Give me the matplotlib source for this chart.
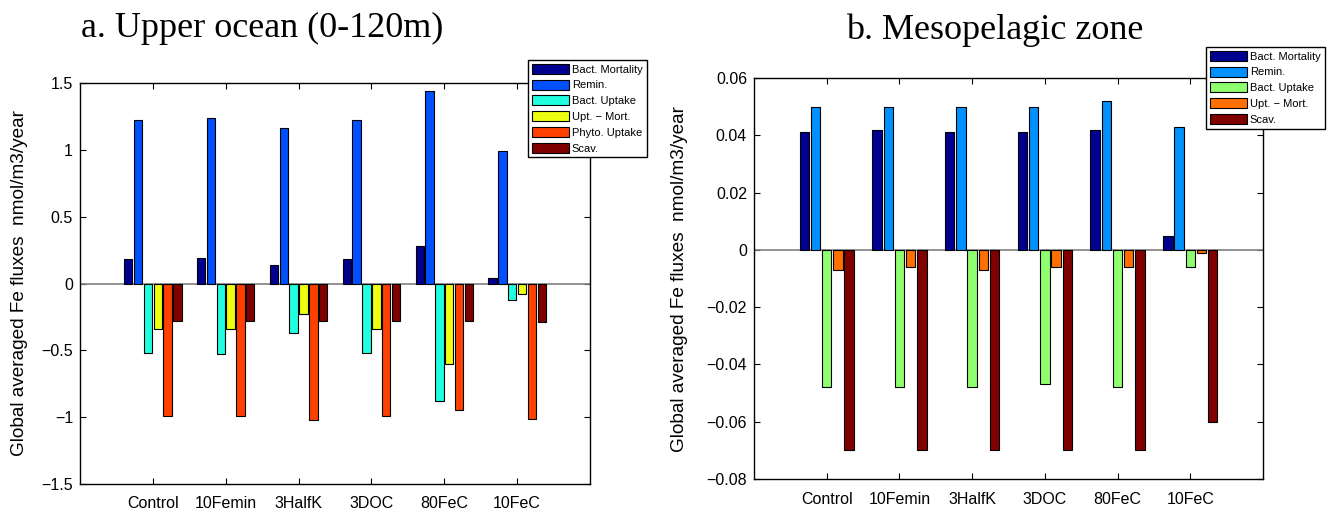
import matplotlib
matplotlib.use('Agg')
import matplotlib.pyplot as plt
import numpy as np

# Dados
experimentos = ['Control', '10Femin', '3HalfK', '3DOC', '80FeC', '10FeC']

series_sup = ['Bact. Mortality', 'Remin.', 'Bact. Uptake', 'Upt. \u2212 Mort.',
              'Phyto. Uptake', 'Scav.']
bact_mort_sup = [0.18, 0.19, 0.14, 0.18, 0.28, 0.04]
remin_sup = [1.22, 1.24, 1.16, 1.22, 1.44, 0.99]
bact_upt_sup = [-0.52, -0.53, -0.37, -0.52, -0.88, -0.12]
upt_mort_sup = [-0.34, -0.34, -0.23, -0.34, -0.60, -0.08]
phyto_upt_sup = [-0.99, -0.99, -1.02, -0.99, -0.95, -1.01]
scav_sup = [-0.28, -0.28, -0.28, -0.28, -0.28, -0.29]

series_meso = ['Bact. Mortality', 'Remin.', 'Bact. Uptake', 'Upt. \u2212 Mort.', 'Scav.']
bact_mort_meso = [0.041, 0.042, 0.041, 0.041, 0.042, 0.005]
remin_meso = [0.050, 0.050, 0.050, 0.050, 0.052, 0.043]
bact_upt_meso = [-0.048, -0.048, -0.048, -0.047, -0.048, -0.006]
upt_mort_meso = [-0.007, -0.006, -0.007, -0.006, -0.006, -0.001]
scav_meso = [-0.070, -0.070, -0.070, -0.070, -0.070, -0.060]

cores_sup = ['#000090', '#0050FF', '#20FFDF', '#EFFF10', '#FF4000', '#800000']
cores_meso = ['#000090', '#0090FF', '#8FFF70', '#FF7000', '#800000']

plt.rcParams['font.family'] = ['Liberation Sans', 'DejaVu Sans']
plt.rcParams['xtick.direction'] = 'in'
plt.rcParams['ytick.direction'] = 'in'

fig = plt.figure(figsize=(13.32, 5.11), dpi=100)
W, H = 1332, 511


def eixo(l, t, r, b):
    return fig.add_axes([l / W, 1 - b / H, (r - l) / W, (b - t) / H])


def barras(ax, dados, nomes, cores, passo, larg):
    x = np.arange(1, len(experimentos) + 1)
    n = len(dados)
    for i, (vals, nome, cor) in enumerate(zip(dados, nomes, cores)):
        ax.bar(x + (i - (n - 1) / 2) * passo, vals, width=larg, color=cor,
               edgecolor='black', linewidth=0.8, label=nome, zorder=3)
    ax.axhline(0, color='#808080', linewidth=1.2, zorder=2)
    ax.set_xlim(0, 7)
    ax.set_xticks(x)
    ax.set_xticklabels(experimentos, fontsize=11.5)
    ax.tick_params(axis='both', top=True, right=True, length=4, labelsize=11.5)
    ax.tick_params(axis='x', pad=9)
    ax.tick_params(axis='y', pad=5)
    ax.set_ylabel('Global averaged Fe fluxes  nmol/m3/year', fontsize=13.7)
    for s in ax.spines.values():
        s.set_linewidth(1.0)


def legenda(ax, x0, y0):
    leg = ax.legend(loc='upper left', bbox_to_anchor=(x0 / W, 1 - y0 / H),
                    bbox_transform=fig.transFigure, fontsize=8, frameon=True,
                    fancybox=False, edgecolor='black', handlelength=3.3,
                    handleheight=1.0, labelspacing=0.45, borderpad=0.35,
                    handletextpad=0.3, borderaxespad=0)
    leg.get_frame().set_linewidth(1.0)
    leg.get_frame().set_alpha(1)


ax1 = eixo(80, 83, 590, 484)
barras(ax1, [bact_mort_sup, remin_sup, bact_upt_sup, upt_mort_sup, phyto_upt_sup, scav_sup],
       series_sup, cores_sup, 0.135, 0.115)
ax1.set_ylim(-1.5, 1.5)
ax1.set_yticks(np.arange(-1.5, 1.6, 0.5))
ax1.set_yticklabels(['\u22121.5', '\u22121', '\u22120.5', '0', '0.5', '1', '1.5'])
ax1.yaxis.set_label_coords(-0.102, 0.5)
fig.text(262 / W, 1 - 28 / H, 'a. Upper ocean (0-120m)', family='Liberation Serif',
         fontsize=26, ha='center', va='center')
legenda(ax1, 528, 60)

ax2 = eixo(754, 78, 1263, 479)
barras(ax2, [bact_mort_meso, remin_meso, bact_upt_meso, upt_mort_meso, scav_meso],
       series_meso, cores_meso, 0.154, 0.13)
ax2.set_ylim(-0.08, 0.06)
ax2.set_yticks(np.arange(-0.08, 0.061, 0.02))
ax2.set_yticklabels(['\u22120.08', '\u22120.06', '\u22120.04', '\u22120.02', '0',
                     '0.02', '0.04', '0.06'])
ax2.yaxis.set_label_coords(-0.13, 0.5)
fig.text(995 / W, 1 - 30 / H, 'b. Mesopelagic zone', family='Liberation Serif',
         fontsize=26, ha='center', va='center')
legenda(ax2, 1206, 47)

fig.savefig('out.png', dpi=100)
